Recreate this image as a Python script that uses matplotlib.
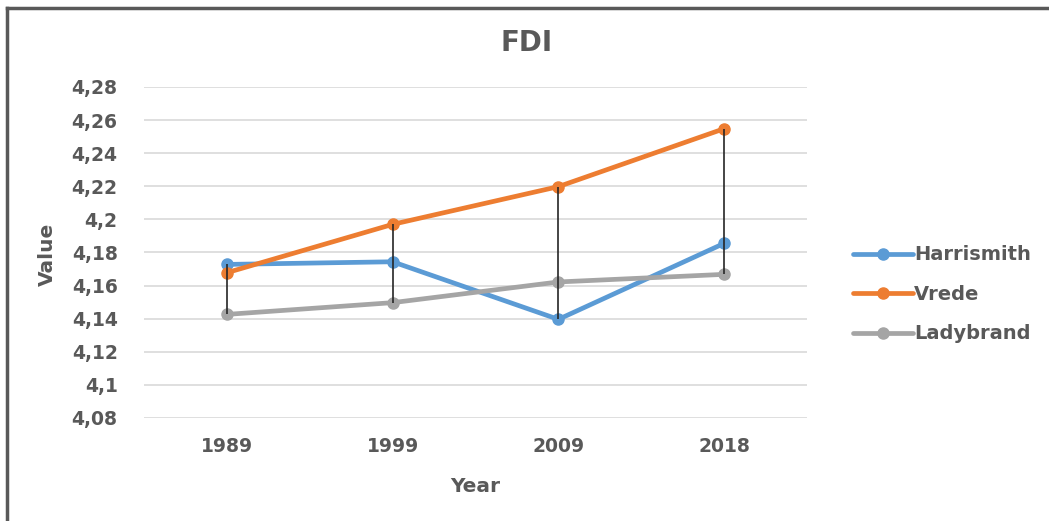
import numpy as np
import matplotlib
matplotlib.use("Agg")
import matplotlib.pyplot as plt
from matplotlib.ticker import FuncFormatter

years = ["1989", "1999", "2009", "2018"]
harrismith = [4.1728, 4.1744, 4.1396, 4.1855]
vrede = [4.1678, 4.1970, 4.2198, 4.2548]
ladybrand = [4.1426, 4.1497, 4.1622, 4.1668]
yticks = [4.08, 4.10, 4.12, 4.14, 4.16, 4.18, 4.20, 4.22, 4.24, 4.26, 4.28]

txt = "#595959"
plt.rcParams['font.family'] = ['DejaVu Sans']

fig = plt.figure(figsize=(10.49, 5.21), dpi=100)
ax = fig.add_axes([144 / 1049, 1 - 418 / 521, (807 - 144) / 1049, (418 - 87) / 521])

x = np.arange(len(years))
series = [("Harrismith", harrismith, "#5B9BD5"),
          ("Vrede", vrede, "#ED7D31"),
          ("Ladybrand", ladybrand, "#A5A5A5")]
for name, vals, col in series:
    ax.plot(x, vals, color=col, lw=3.4, marker="o", ms=8, label=name,
            zorder=3, solid_capstyle="round")

# high-low lines
allv = np.array([harrismith, vrede, ladybrand])
ax.vlines(x, allv.min(axis=0), allv.max(axis=0), color="#262626", lw=1.2, zorder=4)

ax.set_xlim(-0.5, len(years) - 0.5)
ax.set_ylim(4.08, 4.28)
ax.set_yticks(yticks)
ax.yaxis.set_major_formatter(FuncFormatter(lambda v, p: ("%g" % round(v, 2)).replace(".", ",")))
ax.set_xticks(x)
ax.set_xticklabels(years)
ax.grid(axis="y", color="#D9D9D9", lw=1.2)
ax.set_axisbelow(True)
for s in ax.spines.values():
    s.set_visible(False)
ax.tick_params(length=0, labelsize=13.5, labelcolor=txt)
for lab in ax.get_xticklabels() + ax.get_yticklabels():
    lab.set_fontweight("bold")
ax.tick_params(axis="y", pad=19)
ax.tick_params(axis="x", pad=14)

fig.text(527 / 1049, 1 - 43 / 521, "FDI", ha="center", va="center",
         fontsize=20, fontweight="bold", color=txt)
fig.text(475 / 1049, 1 - 487 / 521, "Year", ha="center", va="center",
         fontsize=14.5, fontweight="bold", color=txt)
fig.text(47 / 1049, 1 - 254 / 521, "Value", ha="center", va="center",
         rotation=90, fontsize=14.5, fontweight="bold", color=txt)

leg = fig.legend(loc="upper left", bbox_to_anchor=(835 / 1049, 1 - 228 / 521),
                 frameon=False, fontsize=14, labelspacing=1.05, handlelength=3.1,
                 handletextpad=0.05, markerscale=1.0)
for t in leg.get_texts():
    t.set_color(txt)
    t.set_fontweight("bold")

# chart frame (left and top edges visible)
fig.add_artist(plt.Line2D([7 / 1049, 7 / 1049], [0, 1 - 8 / 521], transform=fig.transFigure,
                          color="#595959", lw=2.5))
fig.add_artist(plt.Line2D([7 / 1049, 1], [1 - 8 / 521, 1 - 8 / 521], transform=fig.transFigure,
                          color="#595959", lw=2.5))

fig.savefig("out.png", dpi=100)
